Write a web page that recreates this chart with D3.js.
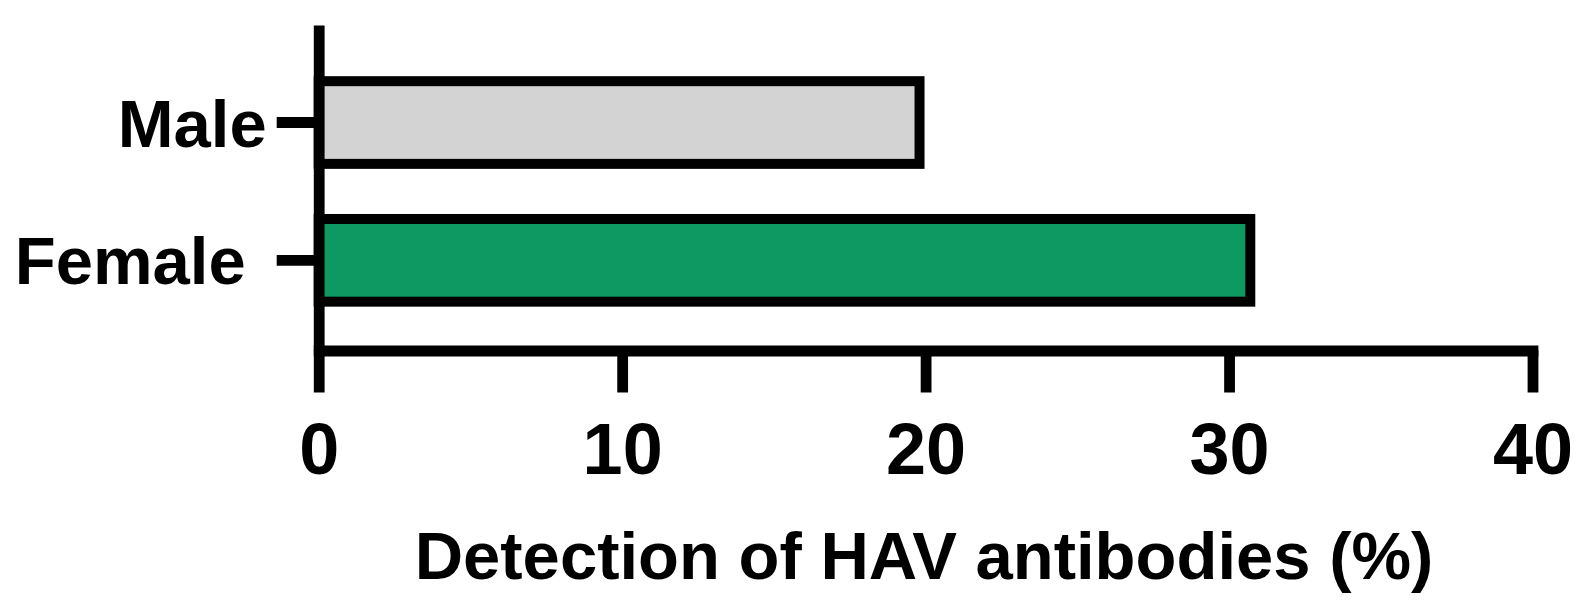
<!DOCTYPE html>
<html>
<head>
<meta charset="utf-8">
<script src="https://cdn.jsdelivr.net/npm/d3@7"></script>
<style>
  body { margin: 0; background: #fff; }
  text { font-family: "Liberation Sans", Arial, sans-serif; font-weight: bold; fill: #000; }
</style>
</head>
<body>
<script>
// data
var categories = ['Male', 'Female'];
var values = [19.8, 30.7];
var fills = ['#d3d3d3', '#0f9962'];
var xTicks = [0, 10, 20, 30, 40];
var xTitle = 'Detection of HAV antibodies (%)';

var width = 1582,
	height = 609;

// axis line widths
var axisW = 10.8,
	barW = 10;

var svg = d3.select('body')
	.append('svg')
	.attr('width', width)
	.attr('height', height);

// x scale
var x = d3.scaleLinear()
	.domain([0, 40])
	.range([318.7, 1532.5]);

// y band scale
var y = d3.scaleBand()
	.domain(categories)
	.range([25, 350.5])
	.paddingInner(0.4)
	.paddingOuter(0.381)
	.align(0.535);

// bars
svg.selectAll('rect.bar')
	.data(categories)
	.enter().append('rect')
	.attr('class', 'bar')
	.attr('x', x(0))
	.attr('y', function(d) { return y(d); })
	.attr('width', function(d, i) { return x(values[i]) - x(0); })
	.attr('height', y.bandwidth())
	.attr('fill', function(d, i) { return fills[i]; })
	.attr('stroke', '#000')
	.attr('stroke-width', barW);

// x axis
var xAxis = svg.append('g')
	.attr('transform', 'translate(0,350.5)')
	.call(d3.axisBottom(x).tickValues(xTicks).tickSize(42).tickSizeOuter(0));

xAxis.select('.domain')
	.attr('stroke-width', axisW)
	.attr('stroke-linecap', 'square');
xAxis.selectAll('.tick line')
	.attr('stroke-width', axisW);
xAxis.selectAll('.tick text')
	.attr('y', 123.5)
	.attr('dy', null)
	.style('font-size', '72px');

// y axis
var labelShift = { Female: 21 };

var yAxis = svg.append('g')
	.attr('transform', 'translate(' + x(0) + ',0)')
	.call(d3.axisLeft(y).tickSize(42).tickSizeOuter(0));

yAxis.select('.domain')
	.attr('stroke-width', axisW);
yAxis.selectAll('.tick line')
	.attr('stroke-width', axisW);
yAxis.selectAll('.tick text')
	.attr('x', function(d) { return -52 - (labelShift[d] || 0); })
	.attr('dy', null)
	.attr('y', 24)
	.style('font-size', '67px');

// x axis title
svg.append('text')
	.attr('x', 924)
	.attr('y', 579)
	.attr('text-anchor', 'middle')
	.style('font-size', '67px')
	.text(xTitle);
</script>
</body>
</html>
